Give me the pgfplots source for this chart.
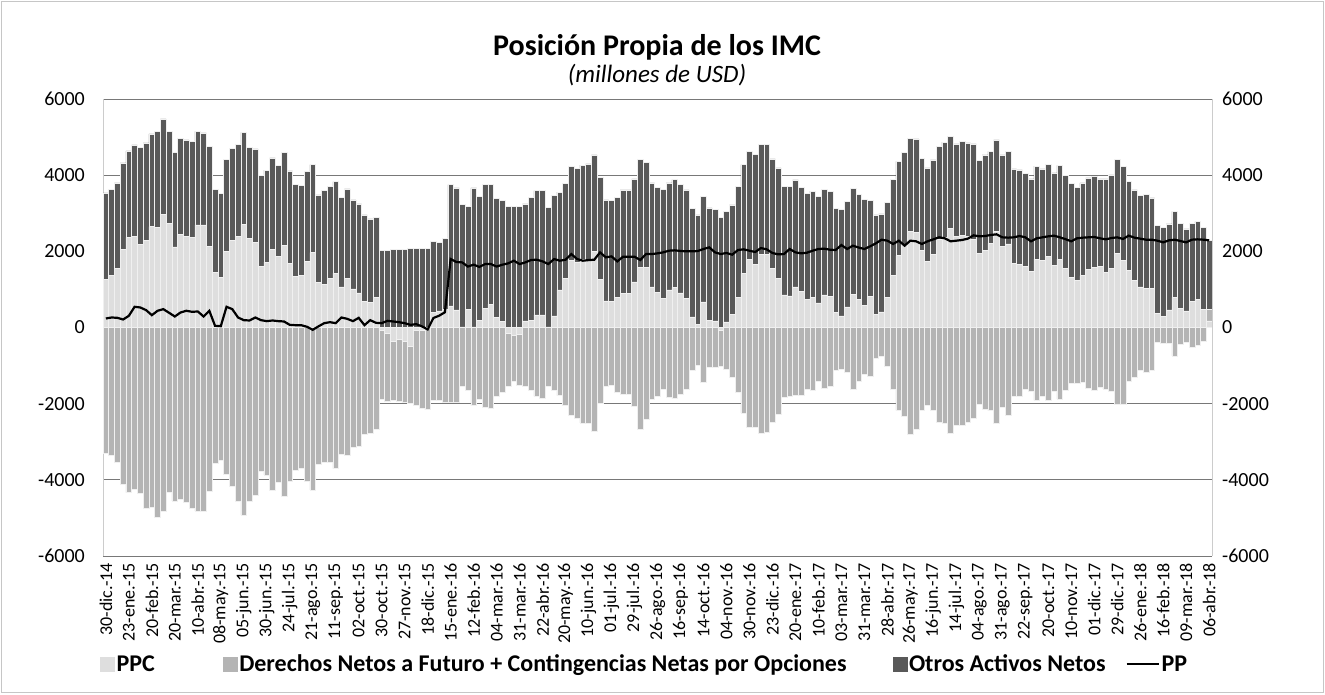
\documentclass[border=0pt]{standalone}
\usepackage{fontspec}
\setmainfont{Carlito}
\usepackage{pgfplots}
\usepackage{pgfplotstable}
\pgfplotsset{compat=1.18}
\definecolor{ppc}{RGB}{222,222,222}
\definecolor{der}{RGB}{180,180,180}
\definecolor{otr}{RGB}{89,89,89}
\definecolor{bord}{RGB}{240,240,240}
\definecolor{gridc}{RGB}{120,120,120}

\pgfplotstableread{
x top mid neg pp
0 3534 1272 -3315 237
1 3622 1377 -3350 263
2 3797 1552 -3532 254
3 4324 2043 -4106 210
4 4639 2368 -4333 307
5 4797 2394 -4246 544
6 4736 2175 -4350 526
7 4850 2289 -4750 456
8 5087 2649 -4715 324
9 5157 2631 -4976 439
10 5481 2964 -4837 482
11 5157 2727 -4315 386
12 4604 2114 -4550 289
13 4973 2447 -4507 395
14 4929 2394 -4576 439
15 4894 2359 -4750 412
16 5148 2692 -4820 421
17 5113 2692 -4820 289
18 4762 2140 -4289 439
19 3631 1447 -3567 44
20 3526 1324 -3497 35
21 4411 1991 -3854 544
22 4701 2280 -4176 482
23 4806 2394 -4550 263
24 5122 2701 -4924 193
25 4727 2333 -4550 184
26 4692 2236 -4394 263
27 3999 1605 -3785 193
28 4131 1719 -3872 167
29 4455 2052 -4263 184
30 4262 1868 -4072 167
31 4604 2166 -4420 158
32 4113 1693 -4028 70
33 3762 1351 -3741 61
34 3736 1359 -3706 61
35 4096 1745 -4046 18
36 4280 1964 -4263 -60
37 3482 1184 -3602 30
38 3604 1131 -3550 114
39 3710 1289 -3532 140
40 3832 1430 -3706 114
41 3420 1070 -3323 263
42 3640 1298 -3358 228
43 3350 1017 -3132 167
44 3245 912 -3115 254
45 2955 693 -2810 61
46 2850 667 -2767 193
47 2894 789 -2680 123
48 2035 0 -1897 114
49 2017 0 -1940 175
50 2052 0 -1914 158
51 2052 0 -1940 140
52 2052 0 -1966 114
53 2087 0 -1984 70
54 2087 0 -2053 88
55 2087 0 -2114 30
56 2087 0 -2158 -50
57 2263 395 -1923 250
58 2228 438 -1923 310
59 2350 482 -1966 400
60 3754 570 -1966 1798
61 3666 465 -1966 1720
62 3227 18 -1549 1710
63 3175 482 -1636 1600
64 3666 18 -2053 1650
65 3447 193 -1897 1590
66 3754 509 -2088 1666
67 3754 614 -2114 1666
68 3394 263 -1810 1600
69 3333 158 -1705 1649
70 3175 0 -1531 1684
71 3175 0 -1418 1754
72 3175 0 -1505 1666
73 3245 175 -1531 1710
74 3420 193 -1636 1772
75 3596 333 -1810 1780
76 3596 333 -1870 1736
77 3157 18 -1531 1666
78 3464 307 -1653 1798
79 3552 991 -1792 1754
80 3789 1289 -2053 1780
81 4236 1754 -2314 1929
82 4183 1710 -2392 1798
83 4262 1780 -2505 1754
84 4297 1798 -2523 1770
85 4534 2000 -2723 1780
86 3947 1272 -1984 1973
87 3350 702 -1531 1842
88 3333 684 -1505 1868
89 3420 789 -1705 1736
90 3613 903 -1757 1859
91 3613 903 -1757 1859
92 3903 1201 -2070 1859
93 4411 1579 -2662 1772
94 4332 1579 -2418 1929
95 3797 1070 -1879 1929
96 3683 921 -1810 1947
97 3622 772 -1610 1973
98 3797 991 -1827 2017
99 3885 1052 -1862 2026
100 3750 910 -1740 2010
101 3613 772 -1610 2000
102 3131 281 -1131 2000
103 2955 88 -992 2008
104 3438 675 -1436 2061
105 3140 193 -1053 2105
106 3096 175 -1044 1973
107 2894 0 -1027 1929
108 3052 149 -1088 1956
109 3219 351 -1300 1912
110 3710 789 -1705 2035
111 4280 1421 -2245 2052
112 4622 1798 -2610 2017
113 4543 1666 -2619 1982
114 4806 1929 -2767 2087
115 4806 1929 -2741 2052
116 4429 1552 -2488 1956
117 4192 1298 -2288 1921
118 3701 859 -1827 1929
119 3701 833 -1810 2061
120 3876 1070 -1792 1973
121 3683 947 -1775 1947
122 3526 745 -1610 1964
123 3578 789 -1636 2017
124 3438 649 -1418 2061
125 3622 859 -1592 2070
126 3569 816 -1531 2043
127 3131 395 -1131 2035
128 3096 307 -1096 2166
129 3315 544 -1183 2061
130 3657 877 -1610 2149
131 3500 730 -1400 2100
132 3359 588 -1218 2061
133 3333 816 -1288 2131
134 2955 351 -809 2210
135 2982 412 -748 2306
136 3289 789 -1027 2280
137 3885 1359 -1618 2193
138 4359 1886 -2175 2280
139 4604 2149 -2332 2149
140 4973 2517 -2810 2280
141 4955 2499 -2680 2263
142 4446 2035 -2175 2193
143 4192 1736 -2053 2263
144 4403 1929 -2175 2315
145 4753 2324 -2480 2368
146 4868 2368 -2506 2342
147 5025 2605 -2767 2263
148 4824 2385 -2567 2280
149 4885 2412 -2567 2298
150 4850 2394 -2480 2333
151 4824 2306 -2375 2420
152 4385 1956 -2027 2394
153 4534 2035 -2140 2403
154 4622 2210 -2184 2430
155 4929 2517 -2506 2447
156 4534 2131 -2088 2368
157 4622 2193 -2305 2359
158 4166 1684 -1810 2368
159 4139 1666 -1810 2403
160 4052 1605 -1618 2368
161 3903 1473 -1679 2263
162 4236 1798 -1914 2342
163 4166 1754 -1810 2368
164 4280 1868 -1914 2394
165 4061 1640 -1679 2412
166 4254 1798 -1879 2368
167 4000 1550 -1650 2320
168 3789 1315 -1462 2263
169 3683 1228 -1462 2342
170 3797 1359 -1444 2359
171 3929 1535 -1592 2368
172 3982 1579 -1636 2377
173 3903 1596 -1575 2342
174 3903 1447 -1610 2315
175 4008 1552 -1679 2350
176 4411 1947 -2027 2368
177 4227 1772 -2027 2324
178 3841 1508 -1401 2412
179 3613 1228 -1305 2359
180 3464 1070 -1114 2333
181 3490 1026 -1183 2306
182 3403 1026 -1114 2306
183 2675 377 -400 2280
184 2631 289 -418 2236
185 2719 465 -418 2289
186 3052 789 -748 2306
187 2736 509 -444 2271
188 2587 438 -400 2236
189 2736 684 -522 2306
190 2780 745 -461 2315
191 2631 482 -374 2306
192 2280 175 0 2289
}\data

\pgfplotsset{
  barstyle/.style={ybar, bar width=5.75pt, bar shift=0pt, draw=bord, line width=0.5pt, forget plot},
  tickfont/.style={font=\fontsize{20}{24}\selectfont},
}

\begin{document}
\begin{tikzpicture}[x=1pt,y=1pt]
\path[use as bounding box] (0,0) rectangle (1325,694);
\draw[gray!45, line width=1pt] (1.5,1.5) rectangle (1323.5,692.5);
\node[font=\bfseries\fontsize{30}{36}\selectfont] at (657,647) {Posición Propia de los IMC};
\node[font=\itshape\fontsize{25}{30}\selectfont] at (657,619) {(millones de USD)};

\begin{axis}[
  at={(103pt,138pt)}, anchor=south west,
  scale only axis, width=1109pt, height=457pt,
  xmin=-0.5, xmax=192.5, ymin=-6000, ymax=6000,
  axis x line*=bottom, axis y line*=left,
  x axis line style={draw=gridc, line width=1pt, -},
  y axis line style={draw=gray!40, line width=0.8pt, -},
  ymajorgrids, grid style={draw=gridc, line width=1pt},
  xtick={0,4,...,192},
  xticklabels={30-dic.-14, 23-ene.-15, 20-feb.-15, 20-mar.-15, 10-abr.-15, 08-may.-15, 05-jun.-15, 30-jun.-15, 24-jul.-15, 21-ago.-15, 11-sep.-15, 02-oct.-15, 30-oct.-15, 27-nov.-15, 18-dic.-15, 15-ene.-16, 12-feb.-16, 04-mar.-16, 31-mar.-16, 22-abr.-16, 20-may.-16, 10-jun.-16, 01-jul.-16, 29-jul.-16, 26-ago.-16, 16-sep.-16, 14-oct.-16, 04-nov.-16, 30-nov.-16, 23-dic.-16, 20-ene.-17, 10-feb.-17, 03-mar.-17, 31-mar.-17, 28-abr.-17, 26-may.-17, 16-jun.-17, 14-jul.-17, 04-ago.-17, 31-ago.-17, 22-sep.-17, 20-oct.-17, 10-nov.-17, 01-dic.-17, 29-dic.-17, 26-ene.-18, 16-feb.-18, 09-mar.-18, 06-abr.-18},
  xticklabel style={rotate=90, anchor=east, inner sep=0pt, font=\fontsize{18}{22}\selectfont},
  xticklabel shift=7pt,
  ytick={-6000,-4000,...,6000},
  yticklabel style={tickfont, inner sep=0pt},
  yticklabel shift=18pt,
  /pgf/number format/.cd, 1000 sep={}, assume math mode=true, /pgfplots/.cd,
  tick style={draw=none},
  legend style={at={(-0.0027,-0.2363)}, anchor=west, draw=none, fill=none, inner sep=0pt,
    font=\bfseries\fontsize{24}{28}\selectfont, legend columns=4,
    /tikz/column 2/.style={column sep=66pt},
    /tikz/column 4/.style={column sep=44pt},
    /tikz/column 6/.style={column sep=18pt}},
]
\addlegendimage{legend image code/.code={\fill[ppc] (0pt,-7pt) rectangle (14pt,7pt);}}
\addlegendentry{PPC}
\addlegendimage{legend image code/.code={\fill[der] (0pt,-7pt) rectangle (14pt,7pt);}}
\addlegendentry{Derechos Netos a Futuro + Contingencias Netas por Opciones}
\addlegendimage{legend image code/.code={\fill[otr] (0pt,-7pt) rectangle (14pt,7pt);}}
\addlegendentry{Otros Activos Netos}
\addlegendimage{legend image code/.code={\draw[black, line width=2pt] (0pt,0pt) -- (32pt,0pt);}}
\addlegendentry{PP}

\addplot[barstyle, fill=otr] table[x=x, y=top] {\data};
\addplot[barstyle, fill=der] coordinates {(192,482)};
\addplot[barstyle, fill=ppc] table[x=x, y=mid] {\data};
\addplot[barstyle, fill=der] table[x=x, y=neg] {\data};
\addplot[barstyle, fill=ppc] coordinates {(48,-70) (49,-157) (50,-348) (51,-313) (52,-348) (53,-505) (54,-70) (55,-60) (70,-150) (71,-200) (72,-180) (107,-60)};
\addplot[black, line width=2.2pt, mark=none, forget plot] table[x=x, y=pp] {\data};
\end{axis}

\begin{axis}[
  at={(103pt,138pt)}, anchor=south west,
  scale only axis, width=1109pt, height=457pt,
  xmin=-0.5, xmax=192.5, ymin=-6000, ymax=6000,
  axis y line*=right, axis x line=none,
  y axis line style={draw=gray!40, line width=0.8pt, -},
  ytick={-6000,-4000,...,6000},
  yticklabel style={tickfont, inner sep=0pt},
  yticklabel shift=10pt,
  /pgf/number format/.cd, 1000 sep={}, assume math mode=true, /pgfplots/.cd,
  tick style={draw=none},
]
\addplot[draw=none, forget plot] coordinates {(0,0)};
\end{axis}
\end{tikzpicture}
\end{document}
